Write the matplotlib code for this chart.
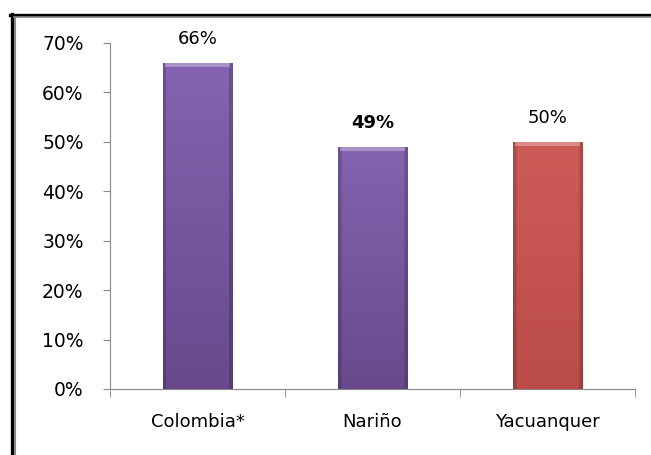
import matplotlib
matplotlib.use("Agg")
import matplotlib.pyplot as plt
import numpy as np
from matplotlib.patches import Rectangle
from matplotlib.lines import Line2D
from matplotlib.ticker import FuncFormatter

categories = ["Colombia*", "Nariño", "Yacuanquer"]
values = [66, 49, 50]
labels = ["66%", "49%", "50%"]
bold = [False, True, False]
colors_top = ["#8463b0", "#8463b0", "#cf5b57"]
colors_bot = ["#684a8c", "#684a8c", "#bb4c49"]
yticks = [0, 10, 20, 30, 40, 50, 60, 70]

plt.rcParams['font.family'] = ['DejaVu Sans']
fig = plt.figure(figsize=(6.51, 4.55), dpi=100)
fig.patch.set_facecolor("white")

W, H = 651.0, 455.0
def fx(px): return px / W
def fy(py): return 1 - py / H

# outer frame (black line with grey inner line)
fig.add_artist(Line2D([fx(11.5), fx(11.5)], [fy(14), fy(460)], color="black", lw=2.4, transform=fig.transFigure))
fig.add_artist(Line2D([fx(14.5), fx(14.5)], [fy(17), fy(460)], color="#8a8a8a", lw=1.5, transform=fig.transFigure))
fig.add_artist(Line2D([fx(10.3), fx(660)], [fy(15), fy(15)], color="black", lw=2.4, transform=fig.transFigure))
fig.add_artist(Line2D([fx(14), fx(660)], [fy(17.3), fy(17.3)], color="#8a8a8a", lw=1.2, transform=fig.transFigure))

ax = fig.add_axes([110/W, 1-389/H, 525/W, (389-43)/H])
x = np.arange(len(categories))
width = 0.4
bars = ax.bar(x, values, width=width, color=colors_top, edgecolor="none", zorder=2)
ax.set_xlim(-0.5, len(categories) - 0.5)
ax.set_ylim(0, 70)

# gradient fill for each bar
for b, ct, cb in zip(bars, colors_top, colors_bot):
    x0, y0 = b.get_x(), b.get_y()
    w, h = b.get_width(), b.get_height()
    c1 = np.array(matplotlib.colors.to_rgb(ct))
    c2 = np.array(matplotlib.colors.to_rgb(cb))
    t = np.linspace(0, 1, 100)[:, None]
    grad = (c2 * (1 - t) + c1 * t)[:, None, :]
    grad = np.repeat(grad, 20, axis=1)
    edge = np.ones(20); edge[0] = 0.82; edge[-1] = 0.82
    grad = grad * edge[None, :, None]
    im = ax.imshow(grad, extent=(x0, x0 + w, y0, y0 + h), origin="lower", aspect="auto", zorder=3)
    im.set_clip_path(b)
    ax.add_patch(Rectangle((x0 + w*0.03, y0 + h - 0.9), w*0.94, 0.9,
                           facecolor=(1, 1, 1, 0.3), edgecolor="none", zorder=4))

for xi, v, lab, bd in zip(x, values, labels, bold):
    ax.text(xi, v + 3.0, lab, ha="center", va="bottom", fontsize=13,
            fontweight="bold" if bd else "normal", color="black")

ax.set_xticks(x)
ax.set_xticklabels(categories, fontsize=13)
ax.set_yticks(yticks)
ax.yaxis.set_major_formatter(FuncFormatter(lambda v, p: f"{int(v)}%"))
ax.tick_params(axis="y", labelsize=13.5, length=5, color="#888888", pad=14)
ax.tick_params(axis="x", length=0, pad=17)
ax.set_xticks([-0.5, 0.5, 1.5, 2.5], minor=True)
ax.tick_params(axis="x", which="minor", length=6, color="#888888", direction="out")
for s in ["top", "right"]:
    ax.spines[s].set_visible(False)
ax.spines["left"].set_color("#888888")
ax.spines["bottom"].set_color("#888888")
ax.set_facecolor("none")

fig.savefig("out.png", dpi=100)
